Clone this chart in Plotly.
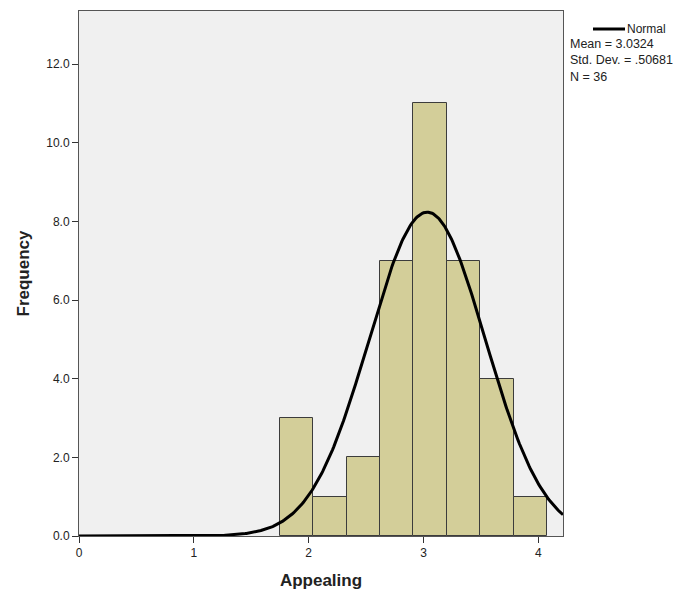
import numpy as np
import plotly.graph_objects as go

# Data
bin_start = 1.75
bin_width = 0.2906
counts = [3, 1, 2, 7, 11, 7, 4, 1]
mean = 3.0324
sd = 0.50681
n = 36
x_tick_vals = [0, 1, 2, 3, 4]
y_tick_vals = [0, 2, 4, 6, 8, 10, 12]
y_tick_text = ["0.0", "2.0", "4.0", "6.0", "8.0", "10.0", "12.0"]
x_range = [0, 4.215]
y_range = [0, 13.35]

centers = [bin_start + bin_width * (i + 0.5) for i in range(len(counts))]

xs = np.linspace(x_range[0], x_range[1], 400)
ys = n * bin_width / (sd * np.sqrt(2 * np.pi)) * np.exp(-0.5 * ((xs - mean) / sd) ** 2)

fig = go.Figure()
fig.add_trace(go.Bar(
    x=centers, y=counts, width=bin_width,
    marker=dict(color="#D3CE99", line=dict(color="#3C3C3C", width=1)),
    showlegend=False, hoverinfo="x+y",
))
fig.add_trace(go.Scatter(
    x=xs, y=ys, mode="lines", line=dict(color="black", width=3),
    showlegend=False, cliponaxis=True,
))

font_family = "Liberation Sans, Arial, sans-serif"
fig.update_layout(
    width=671, height=588,
    margin=dict(l=71, r=116, t=3, b=60, autoexpand=False),
    paper_bgcolor="white", plot_bgcolor="#F0F0F0",
    bargap=0,
    font=dict(family=font_family, size=12, color="#222222"),
    xaxis=dict(
        range=x_range, tickvals=x_tick_vals, ticks="outside", ticklen=6,
        tickcolor="#333333", showgrid=False, zeroline=False, automargin=False,
        showline=True, linecolor="#555555", linewidth=1, mirror=True,
        title=dict(text="<b>Appealing</b>", font=dict(size=17, color="#222222"), standoff=14),
        tickfont=dict(size=12, color="#222222"),
    ),
    yaxis=dict(
        range=y_range, tickvals=y_tick_vals, ticktext=y_tick_text,
        ticks="outside", ticklen=6, tickcolor="#333333", automargin=False,
        showgrid=False, zeroline=False,
        showline=True, linecolor="#555555", linewidth=1, mirror=True,
        title=dict(text="<b>Frequency</b>", font=dict(size=17, color="#222222"), standoff=12),
        tickfont=dict(size=12, color="#222222"),
    ),
    shapes=[
        dict(type="line", xref="paper", yref="paper",
             x0=1.0 + 30 / 484, x1=1.0 + 62 / 484,
             y0=1 - (29 - 11) / 525, y1=1 - (29 - 11) / 525,
             line=dict(color="black", width=3)),
    ],
    annotations=[
        dict(text="Normal", xref="paper", yref="paper",
             x=1.0 + 62 / 484, y=1 - (29 - 11) / 525, xanchor="left", yanchor="middle",
             showarrow=False, font=dict(size=12, color="#222222")),
        dict(text="Mean = 3.0324<br>Std. Dev. = .50681<br>N = 36",
             xref="paper", yref="paper", x=1.0 + 5 / 484, y=1 - (35 - 11) / 525,
             xanchor="left", yanchor="top", align="left", showarrow=False,
             font=dict(size=12.5, color="#222222")),
    ],
)

fig.write_html("out.html")
